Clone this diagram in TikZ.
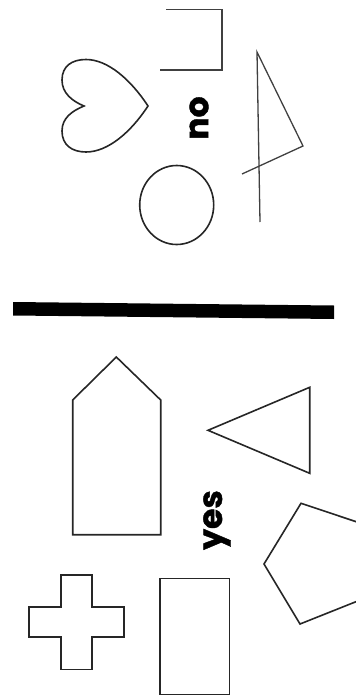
\documentclass[tikz,border=0pt]{standalone}
\usepackage{fontspec}
\newfontfamily\labelfont{Poppins}[BoldFeatures={FakeBold=1.2}]
\begin{document}
\begin{tikzpicture}[x=1pt,y=-1pt,
  figline/.style={draw=black!85,line width=1.6pt,line join=miter},
  thinfig/.style={draw=black!75,line width=1.3pt},
  word/.style={font=\labelfont\bfseries\fontsize{33}{33}\selectfont,rotate=90,inner sep=0pt}]
\useasboundingbox (0,0) rectangle (356,696);
\clip (0,0) rectangle (356,696);
% ---- "no" side ----
\draw[thinfig] (166,9.5) -- (222,9.5) -- (222,70) -- (160,70);
\draw[figline] (84,106) .. controls (72,101) and (62,93) .. (62,80)
  .. controls (62,66) and (72,59.5) .. (86,59.5)
  .. controls (108,59.5) and (131,80) .. (148,106)
  .. controls (131,132) and (108,152) .. (86,152)
  .. controls (72,152) and (62,145) .. (62,131)
  .. controls (62,118) and (72,111) .. (84,106) -- cycle;
\node[word] (no) at (199,118) {no};
\draw[thinfig] (260,222) -- (257,52) -- (303,146) -- (242,174);
\draw[figline] (176.7,205) ellipse [x radius=37,y radius=39.5];
% ---- divider ----
\fill[black] (13,302) -- (334,305.5) -- (334,319) -- (13,315.5) -- cycle;
% ---- "yes" side ----
\draw[figline] (72.7,534.7) -- (72.7,400) -- (116.3,357) -- (160.7,400) -- (160.7,534.7) -- cycle;
\draw[figline] (208,430.3) -- (309.7,387.3) -- (309.7,473.3) -- cycle;
\node[word] (yes) at (217,520) {yes};
\draw[figline] (301,503.3) -- (264,564) -- (300,624) -- (366,597.7) -- (369,526) -- cycle;
\draw[figline] (61,575) -- (91.7,575) -- (91.7,607) -- (124,607) -- (124,637) -- (91.7,637)
  -- (91.7,669.3) -- (61,669.3) -- (61,637) -- (29,637) -- (29,607) -- (61,607) -- cycle;
\draw[figline] (160,578.5) rectangle (229.5,694.3);
\end{tikzpicture}
\end{document}
